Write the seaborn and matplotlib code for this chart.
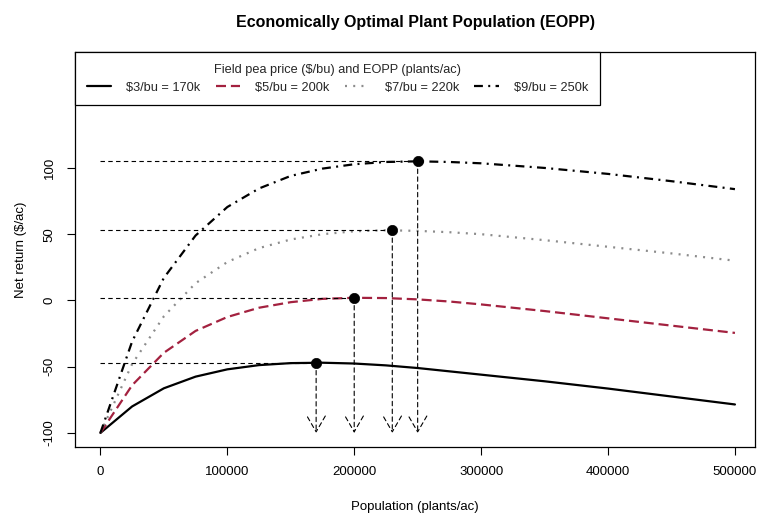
import matplotlib
matplotlib.use("Agg")
import matplotlib.pyplot as plt
import seaborn as sns
import pandas as pd
import numpy as np

# ---- data ----
population = [0, 25000, 50000, 75000, 100000, 125000, 150000, 175000, 200000,
              225000, 250000, 275000, 300000, 350000, 400000, 450000, 500000]
net_3 = [-100, -80, -66.3, -57.5, -52, -48.8, -47.3, -47, -47.6,
         -49, -51, -53.5, -56, -61, -66.5, -72.5, -78.5]
net_5 = [-100, -64, -39.5, -23, -12.5, -5.5, -1.3, 1.2, 2,
         1.8, 0.8, -0.8, -3, -8, -13.5, -19, -24.5]
net_7 = [-100, -48, -12, 13, 29, 39.5, 46, 50, 52.2,
         53, 52.5, 51.5, 50, 45.5, 40.5, 35.5, 30]
net_9 = [-100, -31, 17, 49, 70.5, 84.5, 94, 99.5, 102.8,
         104.5, 105, 104.5, 103.5, 100, 95.5, 90, 84]

series_labels = ["$3/bu = 170k", "$5/bu = 200k", "$7/bu = 220k", "$9/bu = 250k"]
opt_pop = [170000, 200000, 230000, 250000]
opt_net = [-47, 2, 53, 105]

x_ticks = [0, 100000, 200000, 300000, 400000, 500000]
y_ticks = [-100, -50, 0, 50, 100]

# ---- styling ----
sns.set_theme(style="white")
plt.rcParams["font.family"] = ["Liberation Sans", "DejaVu Sans"]

colors = ["#000000", "#a3213f", "#8c8c8c", "#000000"]
dashes = [None, (4.5, 2.2), (0.9, 2.8), (4, 2.4, 0.9, 2.4)]

fig = plt.figure(figsize=(7.57, 5.16), dpi=100)
W, H = 757, 516
ax = fig.add_axes([75 / W, (H - 447) / H, (755 - 75) / W, (447 - 52) / H])

all_series = [net_3, net_5, net_7, net_9]
handles = []
for vals, lab, col, dsh in zip(all_series, series_labels, colors, dashes):
    df = pd.DataFrame({"pop": population, "net": vals})
    sns.lineplot(data=df, x="pop", y="net", ax=ax, color=col, lw=1.6,
                 estimator=None, sort=True)
    line = ax.lines[-1]
    if dsh is not None:
        line.set_dashes(dsh)
    line.set_label(lab)
    handles.append(line)

# guide lines and arrows
for xo, yo in zip(opt_pop, opt_net):
    ax.plot([0, xo], [yo, yo], color="black", lw=0.8, ls=(0, (4, 3)))
    ax.annotate("", xy=(xo, -100), xytext=(xo, yo),
                arrowprops=dict(arrowstyle="->,head_length=0.95,head_width=0.55",
                                color="black", lw=0.8, ls=(0, (4, 3)),
                                shrinkA=0, shrinkB=0))

sns.scatterplot(x=opt_pop, y=opt_net, ax=ax, color="black", s=55,
                edgecolor="black", linewidth=0.5, zorder=5, legend=False)

ax.set_xlim(-20000, 515800)
ax.set_ylim(-110.6, 187.5)
ax.set_xticks(x_ticks)
ax.set_xticklabels([str(t) for t in x_ticks])
ax.set_yticks(y_ticks)
ax.set_yticklabels([str(t) for t in y_ticks], rotation=90, va="center")

ax.tick_params(axis="both", direction="out", length=6, width=0.8,
               color="black", labelsize=9.5, labelcolor="black", pad=8,
               bottom=True, left=True)
for sp in ax.spines.values():
    sp.set_color("black")
    sp.set_linewidth(0.9)
    sp.set_visible(True)

ax.set_xlabel("Population (plants/ac)", fontsize=9.5, labelpad=16, color="black")
ax.set_ylabel("Net return ($/ac)", fontsize=9.5, labelpad=12, color="black")
ax.set_title("Economically Optimal Plant Population (EOPP)", fontsize=11.5,
             fontweight="bold", pad=18, color="black")

leg = ax.legend(handles=handles, labels=series_labels,
                title="Field pea price ($/bu) and EOPP (plants/ac)",
                loc="upper left", bbox_to_anchor=(0.0, 1.0), borderaxespad=0,
                ncol=4, fontsize=9.2, title_fontsize=9.2, frameon=True,
                fancybox=False, edgecolor="black", framealpha=1,
                handlelength=1.9, columnspacing=1.2, handletextpad=1.2,
                borderpad=0.9)
leg.get_frame().set_linewidth(0.9)

fig.savefig("out.png", dpi=100)
